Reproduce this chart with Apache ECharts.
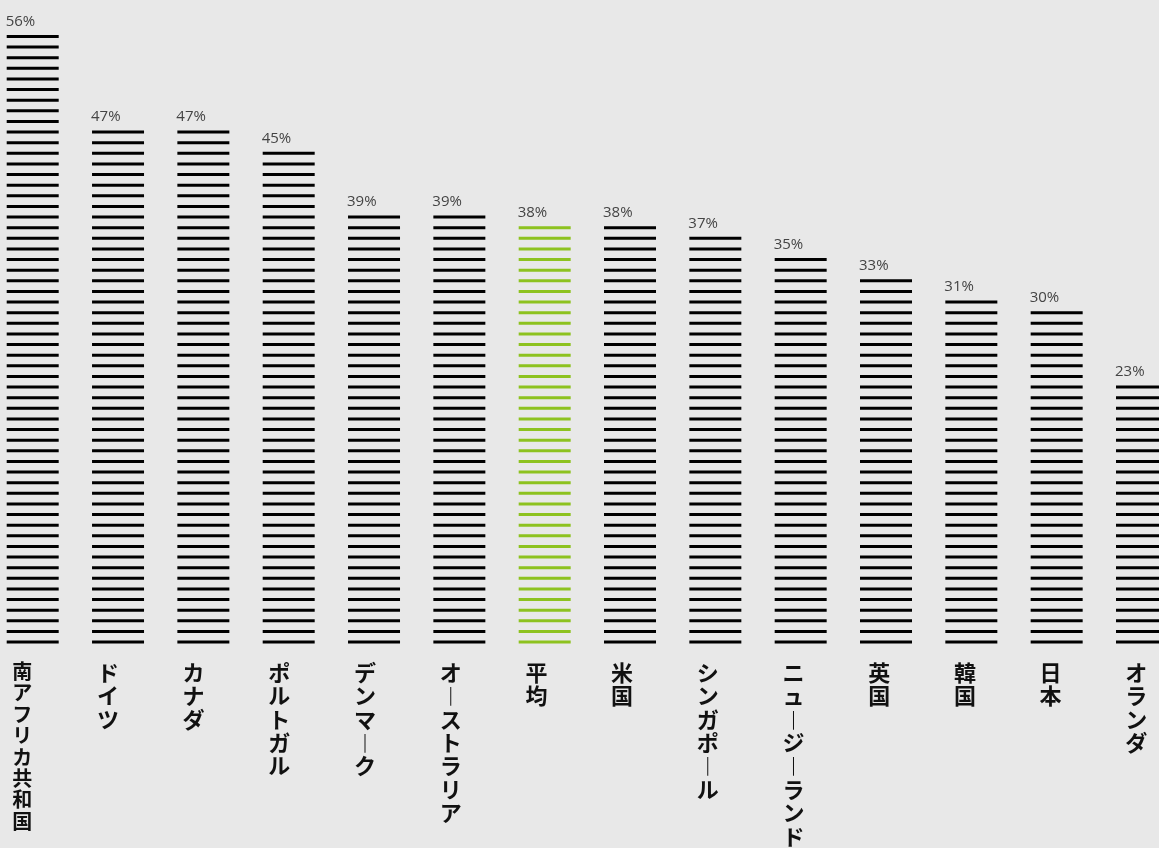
<!DOCTYPE html>
<html>
<head>
<meta charset="utf-8">
<script src="https://cdn.jsdelivr.net/npm/echarts@6/dist/echarts.min.js"></script>
<style>
html,body{margin:0;padding:0;background:#e8e8e8;}
#c{width:1159px;height:848px;}
</style>
</head>
<body>
<div id="c"></div>
<script>
// ---- data ----
const categories = ['南アフリカ共和国','ドイツ','カナダ','ポルトガル','デンマーク','オーストラリア','平均','米国','シンガポール','ニュージーランド','英国','韓国','日本','オランダ'];
const values = [56, 47, 47, 45, 39, 39, 38, 38, 37, 35, 33, 31, 30, 23];
const highlightCategory = '平均';
const smallLabelCategories = ['南アフリカ共和国'];

// ---- styles ----
const BLACK = '#000000';
const GREEN = '#8dc21f';
const BG = '#e8e8e8';

const toVertical = s => Array.from(s).map(ch => ch === 'ー' ? '︱' : ch).join('\n');

const chart = echarts.init(document.getElementById('c'), null, {renderer: 'canvas'});

const option = {
  backgroundColor: BG,
  animation: false,
  grid: [
    {left: 32.7, right: 17.0, top: 24.25, bottom: 204.5},
    {left: 22.2, right: 22.7, top: 24.25, bottom: 204.5}
  ],
  xAxis: [
    {type: 'category', gridIndex: 0, data: categories, boundaryGap: false, show: false},
    {
      type: 'category', gridIndex: 1, boundaryGap: false,
      data: categories.map(c => smallLabelCategories.includes(c)
        ? {value: c, textStyle: {fontSize: 20, lineHeight: 21.4}}
        : c),
      axisLine: {show: false}, axisTick: {show: false}, splitLine: {show: false},
      axisLabel: {
        interval: 0, margin: 24,
        formatter: v => toVertical(v),
        fontFamily: 'Noto Sans CJK JP', fontWeight: 'bold',
        fontSize: 22, lineHeight: 23.4, color: '#111111',
        align: 'center', verticalAlign: 'top'
      }
    }
  ],
  yAxis: [
    {type: 'value', gridIndex: 0, min: 0, max: 57.28, show: false},
    {type: 'value', gridIndex: 1, min: 0, max: 1, show: false}
  ],
  series: [{
    type: 'pictorialBar',
    xAxisIndex: 0, yAxisIndex: 0,
    symbol: 'rect',
    symbolRepeat: true,
    symbolSize: [52, 3],
    symbolMargin: 3.8125,
    barWidth: 52,
    data: values.map((v, i) => ({
      value: v,
      itemStyle: {color: categories[i] === highlightCategory ? GREEN : BLACK}
    })),
    label: {
      show: true,
      position: [-1, -21],
      formatter: '{c}%',
      color: '#444444',
      fontSize: 15,
      fontFamily: 'Open Sans'
    }
  }]
};
chart.setOption(option);
</script>
</body>
</html>
